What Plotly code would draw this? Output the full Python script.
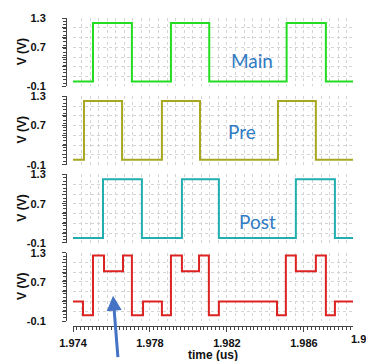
import numpy as np
import plotly.graph_objects as go

# ---- data ----
t_main = [1.97400, 1.97504, 1.97706, 1.97909, 1.98108, 1.98510, 1.98714, 1.98855]
v_main = [0.0, 1.2, 0.0, 1.2, 0.0, 1.2, 0.0, 0.0]

t_pre = [1.97400, 1.97457, 1.97655, 1.97862, 1.98060, 1.98465, 1.98662, 1.98855]
v_pre = [0.0, 1.2, 0.0, 1.2, 0.0, 1.2, 0.0, 0.0]

t_post = [1.97400, 1.97556, 1.97758, 1.97966, 1.98158, 1.98558, 1.98761, 1.98855]
v_post = [0.0, 1.2, 0.0, 1.2, 0.0, 1.2, 0.0, 0.0]

t_ffe = [1.97400, 1.97452, 1.97504, 1.97561, 1.97660, 1.97706, 1.97764, 1.97862,
         1.97909, 1.97966, 1.98055, 1.98106, 1.98158, 1.98460, 1.98506, 1.98558,
         1.98662, 1.98714, 1.98761, 1.98855]
v_ffe = [0.3, 0.02, 1.24, 0.92, 1.24, 0.02, 0.3, 0.02,
         1.24, 0.92, 1.24, 0.02, 0.3, 0.02, 1.24, 0.92,
         1.24, 0.02, 0.3, 0.3]

x_ticks = [1.974, 1.978, 1.982, 1.986]
x_ticktext = ["1.974", "1.978", "1.982", "1.986"]
y_ticks = [-0.1, 0.1, 0.3, 0.5, 0.7, 0.9, 1.1, 1.3]
y_ticktext = ["-0.1", "", "", "", "0.7", "", "", "1.3"]
labels = ["Main", "Pre", "Post"]

x_range = [1.974, 1.98855]
y_range = [-0.1, 1.3]

colors = ["#22DD22", "#A8A820", "#20AEAE", "#DD2222"]
series = [(t_main, v_main), (t_pre, v_pre), (t_post, v_post), (t_ffe, v_ffe)]

W, H = 366, 361
ml, mr, mt, mb = 66, 13, 14, 32
pw, ph = W - ml - mr, H - mt - mb

def py(px):  # pixel row -> paper y
    return (H - mb - px) / ph

def pxx(px):  # pixel col -> paper x
    return (px - ml) / pw

panel_px = [(14, 84), (94, 164), (174, 244), (254, 324)]
x_dom = [pxx(73), 1.0]

fig = go.Figure()
for i, (t, v) in enumerate(series):
    k = "" if i == 0 else str(i + 1)
    fig.add_trace(go.Scatter(x=t, y=v, mode="lines", line=dict(color=colors[i], width=2, shape="hv"),
                             xaxis="x" + k, yaxis="y" + k, showlegend=False, hoverinfo="skip"))
# invisible trace to host the bottom tick axis
fig.add_trace(go.Scatter(x=t_ffe, y=v_ffe, mode="lines", line=dict(width=0), opacity=0,
                         xaxis="x5", yaxis="y4", showlegend=False, hoverinfo="skip"))

tickfont = dict(family="Liberation Sans", size=11, color="#111", weight="bold")
grid_dt = 0.004 / 9

layout = dict(width=W, height=H, autosize=False,
              margin=dict(l=ml, r=mr, t=mt, b=mb),
              paper_bgcolor="white", plot_bgcolor="white")

for i, (top, bot) in enumerate(panel_px):
    k = "" if i == 0 else str(i + 1)
    layout["xaxis" + k] = dict(domain=x_dom, range=x_range, anchor="y" + k,
                               showticklabels=False, ticks="", showline=False, zeroline=False,
                               tickmode="linear", tick0=1.974, dtick=grid_dt,
                               showgrid=True, gridcolor="#d4d4d4", griddash="dot", gridwidth=1)
    layout["yaxis" + k] = dict(domain=[py(bot), py(top)], range=y_range, anchor="free", position=0,
                               tickmode="array", tickvals=y_ticks, ticktext=y_ticktext,
                               ticks="outside", ticklen=4, tickcolor="#444", tickwidth=1,
                               minor=dict(tickmode="linear", tick0=-0.1, dtick=0.07, ticks="outside",
                                          ticklen=3, tickcolor="#444", showgrid=False),
                               showline=True, linecolor="#444", linewidth=1, zeroline=False,
                               showgrid=True, gridcolor="#d4d4d4", griddash="dot", gridwidth=1,
                               tickfont=tickfont, ticklabelstandoff=14)

layout["xaxis5"] = dict(overlaying="x4", anchor="free", position=0, range=x_range, domain=x_dom,
                        tickmode="array", tickvals=x_ticks, ticktext=x_ticktext,
                        ticks="outside", ticklen=5, tickcolor="#444",
                        minor=dict(tickmode="linear", tick0=1.974, dtick=0.0002, ticks="outside",
                                   ticklen=3, tickcolor="#444", showgrid=False),
                        showline=True, linecolor="#444", showgrid=False, zeroline=False,
                        tickfont=tickfont, ticklabelstandoff=2)

fig.update_layout(**layout)

ann = []
for i, (top, bot) in enumerate(panel_px):
    ann.append(dict(text="V (V)", xref="paper", yref="paper", x=pxx(22), y=py((top + bot) / 2),
                    textangle=-90, showarrow=False, xanchor="center", yanchor="middle",
                    font=dict(family="Liberation Sans", size=12, color="#111", weight="bold")))

lab_pos = [(1.98330, 0.44), (1.98278, 0.58), (1.98361, 0.34)]
for i, (lx, ly) in enumerate(lab_pos):
    k = "" if i == 0 else str(i + 1)
    ann.append(dict(text=labels[i], xref="x" + k, yref="y" + k, x=lx, y=ly, showarrow=False,
                    font=dict(family="Lato", size=19, color="#2F7BC4")))

ann.append(dict(text="time (us)", xref="paper", yref="paper", x=pxx(213), y=py(359),
                showarrow=False, xanchor="center", yanchor="middle",
                font=dict(family="Liberation Sans", size=12, color="#111", weight="bold")))
ann.append(dict(text="1.990", xref="paper", yref="paper", x=pxx(349), y=py(342),
                showarrow=False, xanchor="left", yanchor="middle",
                font=tickfont))
ann.append(dict(text="", xref="x4", yref="y4", x=1.97608, y=0.42, ax=5, ay=63,
                showarrow=True, arrowhead=2, arrowwidth=3, arrowsize=1, arrowcolor="#4472C4"))
fig.update_layout(annotations=ann)

fig.write_html("out.html")
